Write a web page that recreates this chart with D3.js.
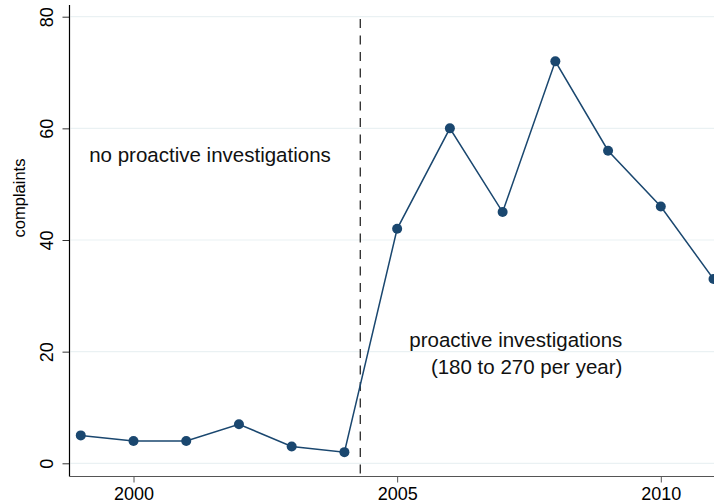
<!DOCTYPE html>
<html>
<head>
<meta charset="utf-8">
<script src="https://cdn.jsdelivr.net/npm/d3@7"></script>
<style>
  html, body { margin: 0; padding: 0; background: #fff; }
  svg { display: block; font-family: "Liberation Sans", Arial, sans-serif; }
</style>
</head>
<body>
<svg id="chart" width="714" height="503"></svg>
<script>
// Complaints per year
const years = [1999, 2000, 2001, 2002, 2003, 2004, 2005, 2006, 2007, 2008, 2009, 2010, 2011];
const complaints = [5, 4, 4, 7, 3, 2, 42, 60, 45, 72, 56, 46, 33];

const xTicks = [2000, 2005, 2010];
const yTicks = [0, 20, 40, 60, 80];

// Start of proactive investigations
const policyStart = [2004.3];

const notes = [
  { x: 1999.16, y: 54, text: "no proactive investigations" },
  { x: 2005.23, y: 20.9, text: "proactive investigations" },
  { x: 2005.64, y: 16.0, text: "(180 to 270 per year)" }
];

const W = 714, H = 503;
const svg = d3.select("#chart");

const x = d3.scaleLinear().domain([2000, 2010]).range([133.5, 660.8]);
const y = d3.scaleLinear().domain([0, 80]).range([463.3, 16.7]);

const plotLeft = 69.5, plotBottom = 476.5, plotTop = 5, plotRight = W;
const navy = "#1a476f";

// grid lines
svg.append("g")
  .selectAll("line")
  .data(yTicks)
  .join("line")
  .attr("x1", plotLeft + 1).attr("x2", plotRight)
  .attr("y1", d => y(d)).attr("y2", d => y(d))
  .attr("stroke", "#eaf1f3").attr("stroke-width", 1.2);

// y axis
const yAxis = svg.append("g")
  .attr("transform", `translate(${plotLeft},0)`)
  .call(d3.axisLeft(y).tickValues(yTicks).tickSize(7).tickPadding(0).tickFormat(d3.format("d")));
yAxis.select(".domain").remove();
yAxis.selectAll(".tick line").attr("stroke", "#333");
yAxis.selectAll(".tick text").remove();
yAxis.selectAll(".tick").append("text")
  .attr("transform", "translate(-17,0) rotate(-90)")
  .attr("text-anchor", "middle")
  .attr("fill", "#000")
  .attr("font-size", 18)
  .text(d => d);
svg.append("line")
  .attr("x1", plotLeft).attr("x2", plotLeft)
  .attr("y1", plotTop).attr("y2", plotBottom)
  .attr("stroke", "#000").attr("stroke-width", 1.2);

// x axis
const xAxis = svg.append("g")
  .attr("transform", `translate(0,${plotBottom})`)
  .call(d3.axisBottom(x).tickValues(xTicks).tickSize(6).tickPadding(5).tickFormat(d3.format("d")));
xAxis.select(".domain").remove();
xAxis.selectAll(".tick line").attr("stroke", "#555");
xAxis.selectAll(".tick text").attr("font-size", 18).attr("fill", "#000")
  .attr("font-family", "Liberation Sans, Arial, sans-serif");
svg.append("line")
  .attr("x1", plotLeft).attr("x2", plotRight)
  .attr("y1", plotBottom).attr("y2", plotBottom)
  .attr("stroke", "#555").attr("stroke-width", 1.2);

// axis title
svg.append("text")
  .attr("transform", "translate(25,198) rotate(-90)")
  .attr("text-anchor", "middle")
  .attr("font-size", 16.5)
  .attr("fill", "#000")
  .text("complaints");

// policy change marker
svg.append("g")
  .selectAll("line")
  .data(policyStart)
  .join("line")
  .attr("x1", d => x(d)).attr("x2", d => x(d))
  .attr("y1", 19).attr("y2", plotBottom)
  .attr("stroke", "#000").attr("stroke-width", 1.1)
  .attr("stroke-dasharray", "9,7.5");

// series
const pts = years.map((yr, i) => ({ yr, v: complaints[i] }));
svg.append("path")
  .datum(pts)
  .attr("fill", "none")
  .attr("stroke", navy)
  .attr("stroke-width", 1.5)
  .attr("d", d3.line().x(d => x(d.yr)).y(d => y(d.v)));
svg.append("g")
  .selectAll("circle")
  .data(pts)
  .join("circle")
  .attr("cx", d => x(d.yr)).attr("cy", d => y(d.v))
  .attr("r", 5)
  .attr("fill", navy);

// annotations
svg.append("g")
  .selectAll("text")
  .data(notes)
  .join("text")
  .attr("x", d => x(d.x)).attr("y", d => y(d.y))
  .attr("font-size", 20.5)
  .attr("fill", "#111")
  .text(d => d.text);
</script>
</body>
</html>
